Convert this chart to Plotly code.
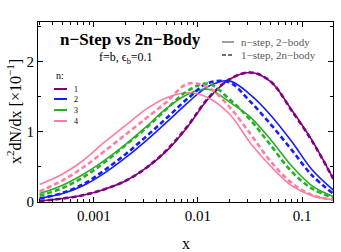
import plotly.graph_objects as go

# ---- data ----
x_vals = [0.0003, 0.0005, 0.0008, 0.00125, 0.002, 0.0032, 0.005, 0.008,
          0.0125, 0.02, 0.032, 0.05, 0.08, 0.125, 0.2]

n_labels = ["1", "2", "3", "4"]

nstep_1 = [0.015, 0.05, 0.10, 0.18, 0.30, 0.49, 0.73, 1.08, 1.47, 1.75, 1.85, 1.72, 1.31, 0.88, 0.33]
nstep_2 = [0.05, 0.12, 0.24, 0.41, 0.63, 0.88, 1.14, 1.42, 1.65, 1.73, 1.53, 1.24, 0.86, 0.46, 0.17]
nstep_3 = [0.12, 0.24, 0.40, 0.59, 0.82, 1.08, 1.34, 1.54, 1.61, 1.43, 1.21, 0.89, 0.51, 0.23, 0.08]
nstep_4 = [0.25, 0.40, 0.60, 0.85, 1.09, 1.33, 1.49, 1.56, 1.49, 1.26, 0.84, 0.51, 0.23, 0.09, 0.035]

onestep_1 = [0.015, 0.05, 0.10, 0.18, 0.30, 0.49, 0.74, 1.09, 1.48, 1.75, 1.85, 1.72, 1.30, 0.87, 0.33]
onestep_2 = [0.05, 0.13, 0.26, 0.45, 0.68, 0.94, 1.20, 1.48, 1.70, 1.71, 1.43, 1.11, 0.74, 0.38, 0.12]
onestep_3 = [0.09, 0.20, 0.36, 0.56, 0.81, 1.06, 1.33, 1.59, 1.69, 1.47, 1.17, 0.81, 0.43, 0.19, 0.06]
onestep_4 = [0.15, 0.31, 0.50, 0.72, 0.96, 1.20, 1.43, 1.69, 1.64, 1.36, 0.97, 0.58, 0.27, 0.10, 0.03]

colors = ["rgb(128,0,128)", "rgb(20,30,255)", "rgb(40,175,40)", "rgb(255,125,160)"]

x_ticks = [0.001, 0.01, 0.1]
x_ticktext = ["0.001", "0.01", "0.1"]
y_ticks = [0, 1, 2]

FONT = "Liberation Serif"

fig = go.Figure()

nstep = [nstep_1, nstep_2, nstep_3, nstep_4]
onestep = [onestep_1, onestep_2, onestep_3, onestep_4]

for i in range(4):
    fig.add_trace(go.Scatter(x=x_vals, y=nstep[i], mode="lines",
                             line=dict(color=colors[i], width=1.6, shape="spline", smoothing=1.0),
                             showlegend=False, hoverinfo="skip"))
for i in range(4):
    fig.add_trace(go.Scatter(x=x_vals, y=onestep[i], mode="lines",
                             line=dict(color=colors[i], width=2.6, dash="5px,3px", shape="spline", smoothing=1.0),
                             showlegend=False, hoverinfo="skip"))

minor_x = []
for d in [1e-4, 1e-3, 1e-2, 1e-1]:
    for k in range(2, 10):
        v = k * d
        if 0.0003 <= v <= 0.2:
            minor_x.append(v)

fig.update_xaxes(type="log", range=[-3.538, -0.702],
                 tickmode="array", tickvals=x_ticks, ticktext=x_ticktext,
                 ticks="inside", ticklen=5, tickwidth=1, tickcolor="black",
                 minor=dict(tickmode="array", tickvals=minor_x, ticks="inside",
                            ticklen=3, tickwidth=1, tickcolor="black", showgrid=False),
                 showline=True, linecolor="black", linewidth=1, mirror="allticks",
                 showgrid=False, zeroline=False,
                 tickfont=dict(family=FONT, size=15, color="black"))
fig.update_yaxes(range=[0, 2.571],
                 tickmode="array", tickvals=y_ticks,
                 ticks="inside", ticklen=5, tickwidth=1, tickcolor="black",
                 minor=dict(tickmode="array", tickvals=[0.5, 1.5, 2.5], ticks="inside",
                            ticklen=3, tickwidth=1, tickcolor="black", showgrid=False),
                 showline=True, linecolor="black", linewidth=1, mirror="allticks",
                 showgrid=False, zeroline=False,
                 tickfont=dict(family=FONT, size=15, color="black"))

W, H = 341, 252
L, R, T, B = 38, 8, 22, 50
pw, ph = W - L - R, H - T - B


def px(xp):
    return (xp - L) / pw


def py(yp):
    return (H - B - yp) / ph


ann = []
ann.append(dict(text="<b>n\u2212Step vs 2n\u2212Body</b>", x=px(130), y=py(39), xref="paper", yref="paper",
                showarrow=False, font=dict(family=FONT, size=17, color="black"), xanchor="center", yanchor="middle"))
ann.append(dict(text="f=b, \u03f5<sub>b</sub>=0.1", x=px(126), y=py(58), xref="paper", yref="paper",
                showarrow=False, font=dict(family=FONT, size=12, color="black"), xanchor="center", yanchor="middle"))
ann.append(dict(text="n:", x=px(54), y=py(75), xref="paper", yref="paper",
                showarrow=False, font=dict(family=FONT, size=10, color="black"), xanchor="left", yanchor="middle"))
leg_y = [89, 99, 110, 121]
shapes = []
for i in range(4):
    shapes.append(dict(type="line", xref="paper", yref="paper", x0=px(54), x1=px(67),
                       y0=py(leg_y[i]), y1=py(leg_y[i]), line=dict(color=colors[i], width=2)))
    ann.append(dict(text=n_labels[i], x=px(72), y=py(leg_y[i]), xref="paper", yref="paper",
                    showarrow=False, font=dict(family=FONT, size=8, color="black"), xanchor="left", yanchor="middle"))

shapes.append(dict(type="line", xref="paper", yref="paper", x0=px(222), x1=px(234),
                   y0=py(42), y1=py(42), line=dict(color="rgb(110,110,110)", width=1.3)))
shapes.append(dict(type="line", xref="paper", yref="paper", x0=px(222), x1=px(234),
                   y0=py(55), y1=py(55), line=dict(color="rgb(110,110,110)", width=2, dash="4px,2px")))
ann.append(dict(text="n\u2212step, 2\u2212body", x=px(239), y=py(42), xref="paper", yref="paper",
                showarrow=False, font=dict(family=FONT, size=11, color="rgb(90,90,90)"), xanchor="left", yanchor="middle"))
ann.append(dict(text="1\u2212step, 2n\u2212body", x=px(239), y=py(55), xref="paper", yref="paper",
                showarrow=False, font=dict(family=FONT, size=11, color="rgb(90,90,90)"), xanchor="left", yanchor="middle"))

ann.append(dict(text="x", x=px(186), y=py(243), xref="paper", yref="paper",
                showarrow=False, font=dict(family=FONT, size=16, color="black"), xanchor="center", yanchor="middle"))
ann.append(dict(text="x<sup>2</sup>dN/dx [\u00d710<sup>\u22121</sup>]", x=px(14), y=py(112), xref="paper", yref="paper",
                showarrow=False, textangle=-90, font=dict(family=FONT, size=16, color="black"),
                xanchor="center", yanchor="middle"))

fig.update_layout(width=W, height=H, margin=dict(l=L, r=R, t=T, b=B),
                  paper_bgcolor="white", plot_bgcolor="white",
                  annotations=ann, shapes=shapes, showlegend=False)

fig.write_html("out.html", config={"displayModeBar": False},
               post_script="document.body.style.margin='0';document.body.style.overflow='hidden';")
